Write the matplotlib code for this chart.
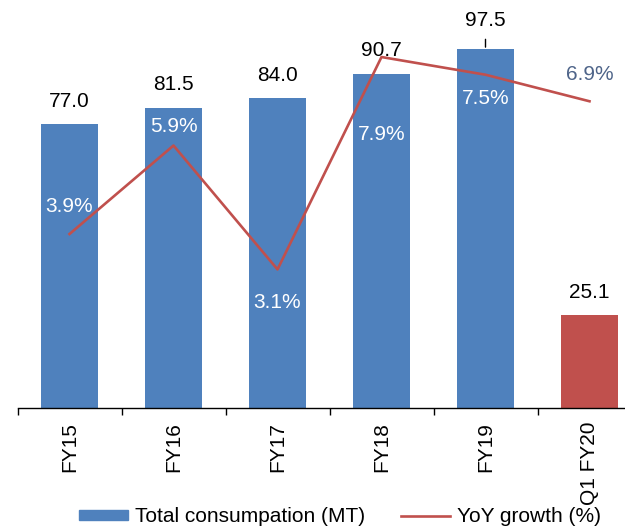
import matplotlib
matplotlib.use("Agg")
import matplotlib.pyplot as plt
from matplotlib.ticker import FixedLocator

plt.rcParams['font.family'] = ['Liberation Sans', 'DejaVu Sans']

categories = ['FY15', 'FY16', 'FY17', 'FY18', 'FY19', 'Q1 FY20']
consumption = [77.0, 81.5, 84.0, 90.7, 97.5, 25.1]
yoy_growth = [3.9, 5.9, 3.1, 7.9, 7.5, 6.9]
bar_colors = ['#4F81BD'] * 5 + ['#C0504D']

# label offsets (points) relative to each mark
bar_label_dy = [12.3, 12.3, 12.3, 12.6, 16.5, 12.8]
pct_label_dy = [15.8, 10.0, -28.0, -60.0, -21.0, 15.0]
pct_label_colors = ['white'] * 5 + ['#4E6489']

FS = 15
W, H = 625, 532
fig = plt.figure(figsize=(W / 100, H / 100), dpi=100)

base_px = 408
ax = fig.add_axes([17.5 / W, (H - base_px) / H, 624 / W, base_px / H])
ax2 = ax.twinx()

x = list(range(len(categories)))
ax.bar(x, consumption, width=0.54, color=bar_colors, label='Total consumpation (MT)', zorder=2)
ax.set_xlim(-0.5, len(categories) - 0.5)
ax.set_ylim(0, base_px / 3.687)

ax2.plot(x, yoy_growth, color='#C0504D', lw=1.9, label='YoY growth (%)', zorder=3)
ax2.set_ylim(-1.4 / 44.25, 406.6 / 44.25)

for a in (ax, ax2):
    for s in ('left', 'right', 'top'):
        a.spines[s].set_visible(False)
    a.set_yticks([])
ax2.spines['bottom'].set_visible(False)
ax.spines['bottom'].set_linewidth(1.0)

ax.set_xticks(x)
ax.set_xticklabels(categories, rotation=90, fontsize=FS, va='top', ha='center')
ax.tick_params(axis='x', which='major', length=0, pad=10)
ax.xaxis.set_minor_locator(FixedLocator([i - 0.5 for i in range(len(categories) + 1)]))
ax.tick_params(axis='x', which='minor', length=5, width=1.0, direction='out')

# bar value labels
for i, v in enumerate(consumption):
    if i == 4:
        ax.annotate(f'{v:.1f}', xy=(i, v), xytext=(0, bar_label_dy[i]),
                    textcoords='offset points', ha='center', va='baseline', fontsize=FS,
                    arrowprops=dict(arrowstyle='-', color='black', lw=1.0,
                                    shrinkA=5, shrinkB=1))
    else:
        ax.annotate(f'{v:.1f}', xy=(i, v), xytext=(0, bar_label_dy[i]),
                    textcoords='offset points', ha='center', va='baseline', fontsize=FS)

# growth labels
for i, v in enumerate(yoy_growth):
    ax2.annotate(f'{v:.1f}%', xy=(i, v), xytext=(0, pct_label_dy[i]),
                 textcoords='offset points', ha='center', va='baseline',
                 fontsize=FS, color=pct_label_colors[i], zorder=4)

h1, l1 = ax.get_legend_handles_labels()
h2, l2 = ax2.get_legend_handles_labels()
h1 = [plt.Rectangle((0, 0), 1, 1, color='#4F81BD')]
fig.legend(h1 + h2, l1 + l2, loc='center', bbox_to_anchor=(340 / W, 15 / H),
           ncol=2, frameon=False, fontsize=FS, handlelength=2.35, handleheight=0.4,
           handletextpad=0.35, columnspacing=1.7, borderpad=0)

fig.savefig('out.png', dpi=100)
